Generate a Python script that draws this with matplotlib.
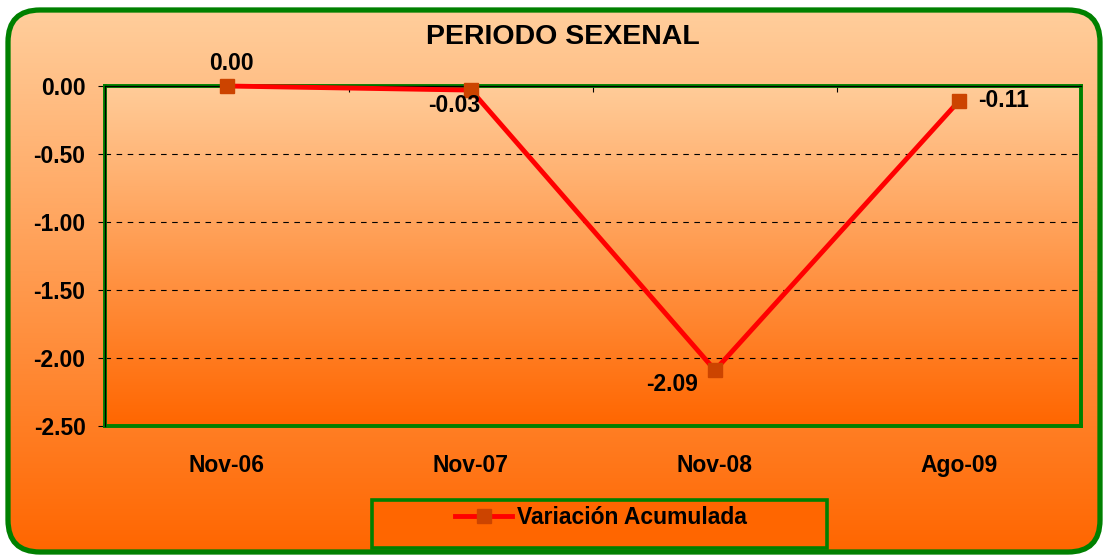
import numpy as np
import matplotlib
matplotlib.use('Agg')
import matplotlib.pyplot as plt
from matplotlib.patches import FancyBboxPatch, Rectangle

plt.rcParams['font.family'] = ['Liberation Sans', 'DejaVu Sans']
plt.rcParams['font.weight'] = 'bold'

# datos
periodos = ['Nov-06', 'Nov-07', 'Nov-08', 'Ago-09']
variacion = [0.00, -0.03, -2.09, -0.11]
yticks = [0.0, -0.5, -1.0, -1.5, -2.0, -2.5]
titulo = 'PERIODO SEXENAL'
serie = 'Variación Acumulada'

# label placement (points) per point: dx, dy, ha
lbl_pos = [(3, 16, 'center'), (-12, -11, 'center'), (-12, -10, 'right'), (14, 0, 'left')]

W, H = 1104, 556
VERDE = '#008000'


def gradient(top, bottom, n=256):
    t = np.linspace(0, 1, n)[:, None]
    c = np.array(top, float)[None, :] * (1 - t) + np.array(bottom, float)[None, :] * t
    return c[:, None, :] / 255.0


fig = plt.figure(figsize=(W / 100, H / 100), dpi=100, facecolor='white')

# fondo con borde redondeado
bg = fig.add_axes([0, 0, 1, 1], zorder=-10)
bg.set_xlim(0, W)
bg.set_ylim(H, 0)
bg.axis('off')
frame = FancyBboxPatch((8, 10), 1092, 542, boxstyle='round,pad=0,rounding_size=32',
                       fc='none', ec=VERDE, lw=3.8, zorder=3)
bg.add_patch(frame)
im = bg.imshow(gradient((255, 206, 156), (255, 102, 0)), extent=[8, 1100, 552, 10],
               aspect='auto', zorder=1, interpolation='bilinear')
im.set_clip_path(frame)
bg.add_patch(Rectangle((372, 500), 455, 48, fc='#FF6600', ec=VERDE, lw=2.6, zorder=4))
bg.set_xlim(0, W)
bg.set_ylim(H, 0)

# area de trazado
ax = fig.add_axes([105 / W, 1 - 426 / H, 976 / W, 340 / H], zorder=1)
ax.patch.set_visible(False)
n = len(periodos)
x = np.arange(n)
ax.imshow(gradient((255, 204, 153), (255, 102, 0)), extent=[-0.5, n - 0.5, yticks[-1], yticks[0]],
          aspect='auto', zorder=0, interpolation='bilinear')
ax.set_xlim(-0.5, n - 0.5)
ax.set_ylim(yticks[-1], yticks[0])

for s in ax.spines.values():
    s.set_color(VERDE)
    s.set_linewidth(2.8)
ax.plot([-0.5, -0.5], [yticks[-1], yticks[0]], color='black', lw=0.9, clip_on=False, zorder=3)
ax.plot([-0.5, n - 0.5], [0, 0], color='black', lw=0.9, clip_on=False, zorder=3)

for v in yticks[1:-1]:
    ax.axhline(v, color='black', lw=0.8, ls=(0, (5, 5)), zorder=1)

ax.set_yticks(yticks)
ax.set_yticklabels(['%.2f' % v for v in yticks])
ax.tick_params(axis='y', length=5, width=0.8, color='black', pad=9, labelsize=16.5)
ax.set_xticks(x)
ax.set_xticklabels(periodos)
ax.tick_params(axis='x', which='major', length=0, pad=20, labelsize=16.5)
ax.set_xticks(np.arange(n - 1) + 0.5, minor=True)
ax.tick_params(axis='x', which='minor', bottom=False, top=True, direction='in',
               length=4, width=0.8, color='black')

linea, = ax.plot(x, variacion, color='#FF0000', lw=3.5, marker='s', ms=9.5,
                 mfc='#CC4400', mec='#CC4400', zorder=5, clip_on=False)

for xi, yi, (dx, dy, ha) in zip(x, variacion, lbl_pos):
    ax.annotate('%.2f' % yi, (xi, yi), xytext=(dx, dy), textcoords='offset points',
                ha=ha, va='center', fontsize=16.5, fontweight='bold', zorder=6)

fig.text(563 / W, 1 - 37 / H, titulo, ha='center', va='center', fontsize=20.5, fontweight='bold')

fig.legend(handles=[linea], labels=[serie], loc='center', bbox_to_anchor=(601 / W, 1 - 518 / H),
           frameon=False, fontsize=16.5, handlelength=2.5, handletextpad=0.2)

fig.savefig('out.png', dpi=100)
